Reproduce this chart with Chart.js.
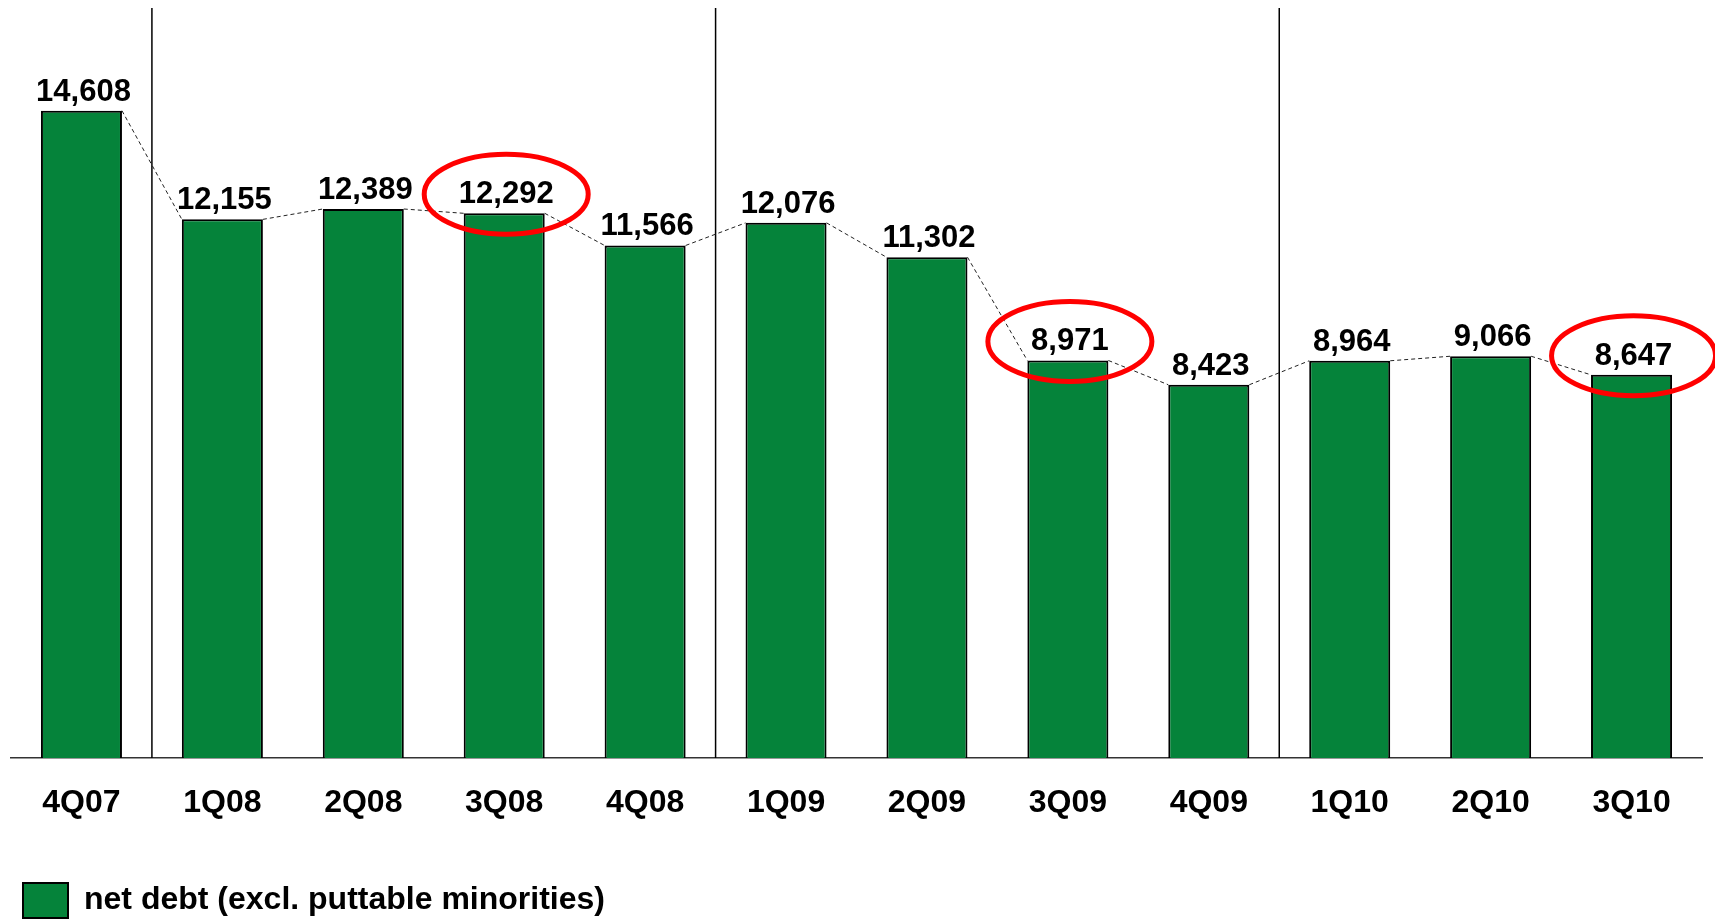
<!DOCTYPE html>
<html>
<head>
<meta charset="utf-8">
<script src="https://cdn.jsdelivr.net/npm/chart.js@4/dist/chart.umd.min.js"></script>
<style>
  html, body { margin: 0; padding: 0; background: #fff; }
  #wrap { width: 1715px; height: 922px; }
</style>
</head>
<body>
<div id="wrap"><canvas id="chart"></canvas></div>
<script>
// quarters and net debt (EUR m)
const quarters = ['4Q07', '1Q08', '2Q08', '3Q08', '4Q08', '1Q09', '2Q09', '3Q09', '4Q09', '1Q10', '2Q10', '3Q10'];
const netDebt = [14608, 12155, 12389, 12292, 11566, 12076, 11302, 8971, 8423, 8964, 9066, 8647];
// first quarter of each new year gets a divider line in front of it
const yearStarts = ['1Q08', '1Q09', '1Q10'];
// quarters whose value is circled
const circled = ['3Q08', '3Q09', '3Q10'];

const FONT = "'Liberation Sans', Arial, sans-serif";

// vertical year dividers
const dividers = {
  id: 'dividers',
  beforeDatasetsDraw(chart) {
    const {ctx, chartArea, scales: {x}} = chart;
    ctx.save();
    ctx.strokeStyle = '#000';
    ctx.lineWidth = 1.5;
    yearStarts.forEach(q => {
      const i = quarters.indexOf(q);
      const px = (x.getPixelForValue(i - 1) + x.getPixelForValue(i)) / 2;
      ctx.beginPath();
      ctx.moveTo(px, chartArea.top);
      ctx.lineTo(px, chartArea.bottom);
      ctx.stroke();
    });
    ctx.restore();
  }
};

// dashed connectors, value labels and the red circles
const annotations = {
  id: 'annotations',
  afterDatasetsDraw(chart) {
    const {ctx} = chart;
    const bars = chart.getDatasetMeta(0).data;
    ctx.save();

    // dashed line from top-right of one bar to top-left of the next
    ctx.strokeStyle = '#222';
    ctx.lineWidth = 1;
    ctx.setLineDash([4, 3]);
    ctx.beginPath();
    for (let i = 0; i < bars.length - 1; i++) {
      const a = bars[i], b = bars[i + 1];
      ctx.moveTo(a.x + a.width / 2, a.y);
      ctx.lineTo(b.x - b.width / 2, b.y);
    }
    ctx.stroke();
    ctx.setLineDash([]);

    ctx.fillStyle = '#000';
    ctx.font = 'bold 31px ' + FONT;
    ctx.textAlign = 'center';
    ctx.textBaseline = 'alphabetic';
    bars.forEach((bar, i) => {
      ctx.fillText(netDebt[i].toLocaleString('en-US'), bar.x + 2, bar.y - 10);
    });

    ctx.strokeStyle = '#ff0000';
    ctx.lineWidth = 5;
    circled.forEach(q => {
      const bar = bars[quarters.indexOf(q)];
      ctx.beginPath();
      ctx.ellipse(bar.x + 2, bar.y - 19, 82, 40, 0, 0, Math.PI * 2);
      ctx.stroke();
    });
    ctx.restore();
  }
};

new Chart(document.getElementById('chart'), {
  type: 'bar',
  data: {
    labels: quarters,
    datasets: [{
      label: 'net debt (excl. puttable minorities)',
      data: netDebt,
      backgroundColor: '#05833a',
      borderColor: '#000',
      borderWidth: 2,
      barPercentage: 0.575,
      categoryPercentage: 1.0
    }]
  },
  options: {
    responsive: true,
    maintainAspectRatio: false,
    animation: false,
    devicePixelRatio: 1,
    layout: { padding: { top: 8, left: 11, right: 13, bottom: 0 } },
    plugins: {
      tooltip: { enabled: false },
      legend: {
        position: 'bottom',
        align: 'start',
        maxHeight: 51,
        labels: {
          boxWidth: 45,
          boxHeight: 35,
          padding: 12,
          color: '#000',
          font: { family: FONT, size: 32, weight: 'bold' }
        }
      }
    },
    scales: {
      x: {
        grid: { display: false, drawTicks: false },
        border: { display: true, color: '#333', width: 1.5 },
        ticks: {
          color: '#000',
          padding: 26,
          font: { family: FONT, size: 32, weight: 'bold' }
        },
        afterFit(scale) { scale.height = 113; }
      },
      y: {
        display: false,
        min: 0,
        max: 16925
      }
    }
  },
  plugins: [dividers, annotations]
});
</script>
</body>
</html>
